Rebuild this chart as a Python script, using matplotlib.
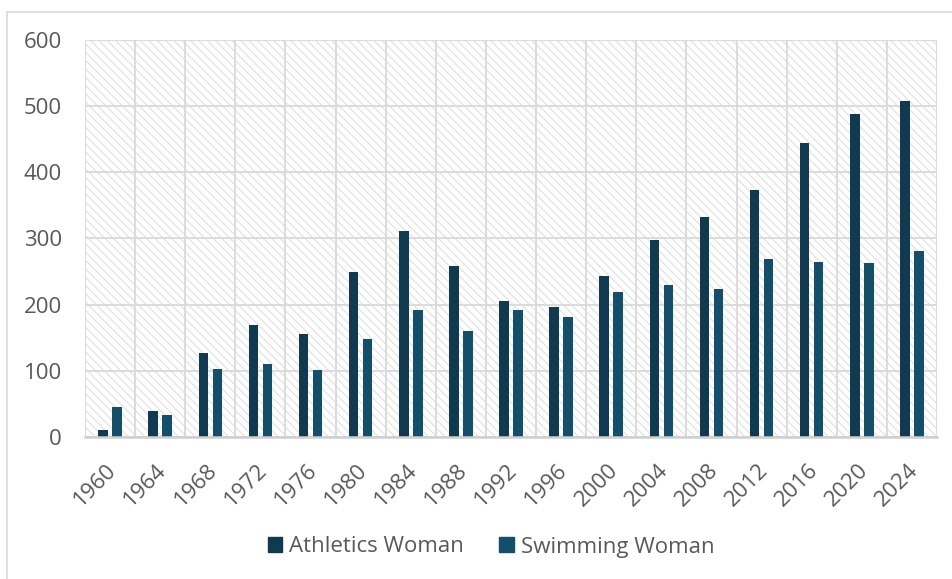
import matplotlib
matplotlib.use("Agg")
import matplotlib.pyplot as plt
import matplotlib.transforms as mtransforms
import numpy as np
from matplotlib.patches import Rectangle

plt.rcParams['font.family'] = ['Open Sans', 'DejaVu Sans']
plt.rcParams['hatch.linewidth'] = 0.8

years = ['1960', '1964', '1968', '1972', '1976', '1980', '1984', '1988', '1992',
         '1996', '2000', '2004', '2008', '2012', '2016', '2020', '2024']
athletics_woman = [10, 40, 127, 170, 156, 249, 312, 259, 205, 196, 243, 298, 332, 373, 444, 488, 508]
swimming_woman = [45, 33, 103, 110, 102, 148, 192, 160, 192, 182, 219, 229, 224, 269, 264, 263, 281]
y_ticks = [0, 100, 200, 300, 400, 500, 600]

c_ath = '#0f3a50'
c_swim = '#134e6b'
grid_c = '#d9d9d9'
text_c = '#595959'

W, H = 952, 579
fig = plt.figure(figsize=(W / 100, H / 100), dpi=100)

# outer chart frame
fig.patches.append(Rectangle((7 / W, -0.1), 1.2, (H - 12) / H + 0.1,
                             transform=fig.transFigure, fill=False,
                             edgecolor=grid_c, linewidth=1.2))

ax = fig.add_axes([85 / W, (H - 437) / H, (937 - 85) / W, (437 - 40) / H])
ax.set_facecolor('white')

x = np.arange(len(years))
ax.set_xlim(-0.5, len(years) - 0.5)
ax.set_ylim(0, 600)

# hatched plot background
ax.add_patch(Rectangle((0, 0), 1, 1, transform=ax.transAxes, facecolor='white',
                       edgecolor='#e0e0e0', linewidth=0, hatch='\\\\\\\\', zorder=0))

bw = 0.19
off = 0.14
ax.bar(x - off, athletics_woman, width=bw, color=c_ath, zorder=3, label='Athletics Woman')
ax.bar(x + off, swimming_woman, width=bw, color=c_swim, zorder=3, label='Swimming Woman')

# grid
ax.set_yticks(y_ticks)
ax.set_yticklabels([str(v) for v in y_ticks])
ax.set_xticks(x)
ax.set_xticks(np.arange(-0.5, len(years)), minor=True)
ax.grid(axis='y', which='major', color=grid_c, linewidth=1.3, zorder=1)
ax.grid(axis='x', which='minor', color=grid_c, linewidth=1.3, zorder=1)
ax.grid(axis='x', which='major', visible=False)
for s in ['top', 'left', 'right']:
    ax.spines[s].set_visible(False)
ax.spines['bottom'].set_color('#cfcfcf')
ax.spines['bottom'].set_linewidth(1.8)
ax.spines['bottom'].set_zorder(4)

ax.tick_params(axis='both', which='both', length=0)
ax.tick_params(axis='y', labelsize=16, labelcolor=text_c, pad=16.5)
ax.set_xticklabels(years, rotation=45, ha='right', rotation_mode='anchor',
                   fontsize=16, color=text_c)
ax.tick_params(axis='x', pad=16)
shift = mtransforms.ScaledTranslation(-4 / 100, 0, fig.dpi_scale_trans)
for lbl in ax.get_xticklabels():
    lbl.set_transform(lbl.get_transform() + shift)

handles = [Rectangle((0, 0), 1, 1, color=c_ath), Rectangle((0, 0), 1, 1, color=c_swim)]
fig.legend(handles, ['Athletics Woman', 'Swimming Woman'], loc='center',
           bbox_to_anchor=(491 / W, (H - 547) / H), ncol=2, frameon=False,
           fontsize=16, labelcolor=text_c, handlelength=0.65, handleheight=0.65,
           handletextpad=0.3, columnspacing=1.6)

fig.savefig('out.png', dpi=100)
